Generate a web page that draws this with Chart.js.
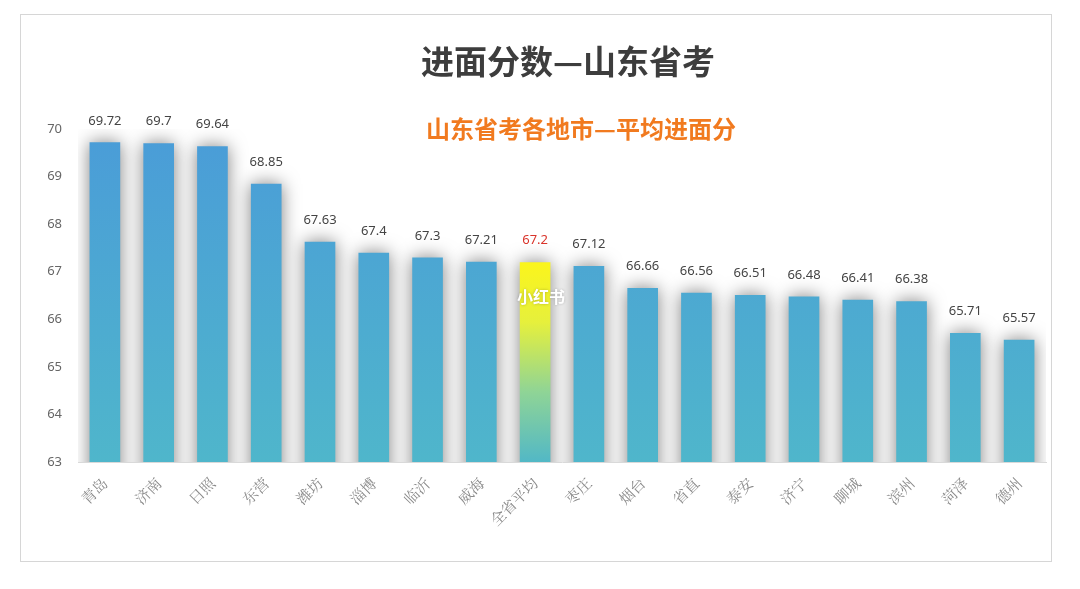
<!DOCTYPE html>
<html>
<head>
<meta charset="utf-8">
<script src="https://cdn.jsdelivr.net/npm/chart.js@4"></script>
<style>
    body { margin: 0; background: #fff; }
    #box {
        position: absolute; left: 20px; top: 14px;
        width: 1030px; height: 546px;
        border: 1px solid #d6d6d6;
    }
</style>
</head>
<body>
<div id="box"><canvas id="chart"></canvas></div>
<script>
// Data
const cities = ['青岛', '济南', '日照', '东营', '潍坊', '淄博', '临沂', '威海', '全省平均',
    '枣庄', '烟台', '省直', '泰安', '济宁', '聊城', '滨州', '菏泽', '德州'];
const scores = [69.72, 69.7, 69.64, 68.85, 67.63, 67.4, 67.3, 67.21, 67.2,
    67.12, 66.66, 66.56, 66.51, 66.48, 66.41, 66.38, 65.71, 65.57];
const averageLabel = '全省平均';
const yMin = 63;
const yMax = 70;

const titleText = '进面分数—山东省考';
const subtitleText = '山东省考各地市—平均进面分';

// Bar fill (average bar goes yellow -> teal from its own top)
function barFill(context) {
    const chart = context.chart;
    const area = chart.chartArea;
    if (!area) return '#4aa8d6';
    const ctx = chart.ctx;
    if (cities[context.dataIndex] === averageLabel) {
        const top = chart.scales.y.getPixelForValue(scores[context.dataIndex]);
        const g = ctx.createLinearGradient(0, top, 0, area.bottom);
        g.addColorStop(0, '#fbf51c');
        g.addColorStop(0.3, '#e6f03c');
        g.addColorStop(0.65, '#8fd496');
        g.addColorStop(1, '#52b8c6');
        return g;
    }
    const g = ctx.createLinearGradient(0, area.top, 0, area.bottom);
    g.addColorStop(0, '#4a9cd8');
    g.addColorStop(1, '#4fb6cb');
    return g;
}

// Soft grey halo round each bar
const haloPlugin = {
    id: 'halo',
    beforeDatasetsDraw(chart) {
        const ctx = chart.ctx;
        ctx.save();
        ctx.shadowColor = 'rgba(0,0,0,0.5)';
        ctx.shadowBlur = 18;
    },
    afterDatasetsDraw(chart) {
        chart.ctx.restore();
    }
};

// Value labels, titles and watermark
const textPlugin = {
    id: 'texts',
    afterDraw(chart) {
        const ctx = chart.ctx;
        const meta = chart.getDatasetMeta(0);
        ctx.save();
        ctx.textAlign = 'center';
        ctx.textBaseline = 'bottom';
        ctx.font = '13px "Noto Sans", sans-serif';
        meta.data.forEach((bar, i) => {
            ctx.fillStyle = cities[i] === averageLabel ? '#d9342b' : '#444';
            ctx.fillText(String(scores[i]), bar.x, bar.y - 15);
        });

        ctx.textBaseline = 'middle';
        ctx.fillStyle = '#3d3d3d';
        ctx.font = 'bold 33px "Noto Sans CJK SC", sans-serif';
        ctx.fillText(titleText, 547, 46);

        ctx.fillStyle = '#f17a1f';
        ctx.font = 'bold 24px "Noto Sans CJK SC", sans-serif';
        ctx.fillText(subtitleText, 560, 114);

        // watermark over the average bar
        const idx = cities.indexOf(averageLabel);
        const avg = meta.data[idx];
        ctx.fillStyle = '#ffffff';
        ctx.shadowColor = 'rgba(0,0,0,0.25)';
        ctx.shadowBlur = 3;
        ctx.font = 'bold 16px "Noto Sans CJK SC", sans-serif';
        ctx.fillText('小红书', avg.x + 6, 282);
        ctx.restore();
    }
};

new Chart(document.getElementById('chart'), {
    type: 'bar',
    data: {
        labels: cities,
        datasets: [{
            data: scores,
            backgroundColor: barFill,
            borderWidth: 0,
            barPercentage: 0.6,
            categoryPercentage: 0.95
        }]
    },
    options: {
        responsive: true,
        maintainAspectRatio: false,
        animation: false,
        layout: { padding: { top: 114, right: 5, left: 0, bottom: 0 } },
        plugins: {
            legend: { display: false },
            tooltip: { enabled: false }
        },
        scales: {
            y: {
                min: yMin,
                max: yMax,
                afterFit(scale) { scale.width = 57; },
                grid: { display: false },
                border: { display: false },
                ticks: {
                    stepSize: 1,
                    color: '#666',
                    padding: 8,
                    font: { size: 13, family: '"Noto Sans", sans-serif' }
                }
            },
            x: {
                afterFit(scale) { scale.height = 99; },
                grid: { display: false },
                border: { display: true, color: '#d9d9d9', width: 1 },
                ticks: {
                    minRotation: 45,
                    maxRotation: 45,
                    color: '#8a8a8a',
                    padding: 4,
                    font: { size: 15, family: '"Noto Serif CJK SC", "Noto Sans CJK SC", serif' }
                }
            }
        }
    },
    plugins: [haloPlugin, textPlugin]
});
</script>
</body>
</html>
